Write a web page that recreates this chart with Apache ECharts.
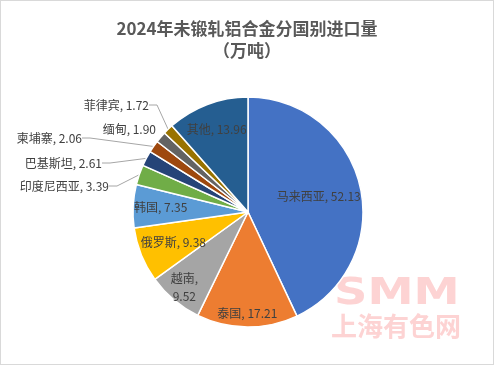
<!DOCTYPE html>
<html><head><meta charset="utf-8">
<script src="https://cdn.jsdelivr.net/npm/echarts@6/dist/echarts.min.js"></script>
<style>
html,body{margin:0;padding:0;background:#fff;}
#c{width:494px;height:365px;box-sizing:border-box;border:1px solid #d9d9d9;}
</style></head>
<body><div id="c"></div>
<script>
const titleText = '2024年未锻轧铝合金分国别进口量\n（万吨）';
const categories = ['马来西亚','泰国','越南','俄罗斯','韩国','印度尼西亚','巴基斯坦','柬埔寨','缅甸','菲律宾','其他'];
const values = [52.13,17.21,9.52,9.38,7.35,3.39,2.61,2.06,1.90,1.72,13.96];
const colors = ['#4472C4','#ED7D31','#A5A5A5','#FFC000','#5B9BD5','#70AD47','#264478','#9E480E','#636363','#997300','#255E91'];

// layout / style settings (not data)
const CX = 247, CY = 211, R = 115;
const FONT = '"Noto Sans CJK SC", "Noto Sans", sans-serif';
// inside label radial ratio
const insideRatio = {'马来西亚':0.63,'泰国':0.88,'越南':0.86,'俄罗斯':0.70,'韩国':0.76,'其他':0.77};
// outside label anchor (right edge x, middle y)
const outsidePos = {'印度尼西亚':[108,185],'巴基斯坦':[101,162],'柬埔寨':[81,137],'缅甸':[155,128],'菲律宾':[148,104]};

const total = values.reduce((a,b)=>a+b,0);
const midAngles = [];
let acc = 0;
values.forEach(v => { midAngles.push((acc + v/2)/total*2*Math.PI); acc += v; });

const chart = echarts.init(document.getElementById('c'));
const data = categories.map((n,i)=>{
  const inside = insideRatio[n] != null;
  return {
    name: n, value: values[i],
    itemStyle: {color: colors[i]},
    label: {position: inside ? 'inside' : 'outside'},
    labelLine: {show: !inside && n !== '缅甸'}
  };
});
chart.setOption({
  animation:false,
  title:{text:titleText,left:'center',top:12,
    textStyle:{fontFamily:FONT,fontSize:17,fontWeight:'bold',color:'#595959',lineHeight:22}},
  graphic:[
    {type:'text',x:333,y:274,scaleX:1.22,style:{text:'SMM',font:'bold 38px "DejaVu Sans", sans-serif',fill:'#FDD3D3'},z:0},
    {type:'text',x:330,y:312,style:{text:'上海有色网',font:'bold 26px "Noto Sans CJK SC", sans-serif',fill:'#FDD3D3'},z:0}
  ],
  series:[{
    type:'pie',
    center:[CX,CY], radius:[0,R],
    startAngle:90, clockwise:true,
    avoidLabelOverlap:false,
    itemStyle:{borderColor:'#fff',borderWidth:1.5},
    label:{fontFamily:FONT,fontSize:12,color:'#404040',
      formatter:p => p.name==='越南' ? p.name+',\n'+p.value.toFixed(2) : p.name+', '+p.value.toFixed(2),
      lineHeight:18},
    labelLine:{lineStyle:{color:'#A6A6A6',width:1},length:10,length2:8},
    labelLayout: function(p){
      const n = categories[p.dataIndex];
      if (insideRatio[n] != null) {
        const a = midAngles[p.dataIndex], k = insideRatio[n];
        return {x: CX + k*R*Math.sin(a), y: CY - k*R*Math.cos(a), align:'center', verticalAlign:'middle'};
      }
      const pos = outsidePos[n];
      return {x: pos[0], y: pos[1], align:'right', verticalAlign:'middle'};
    },
    data: data
  }]
});
</script></body></html>
